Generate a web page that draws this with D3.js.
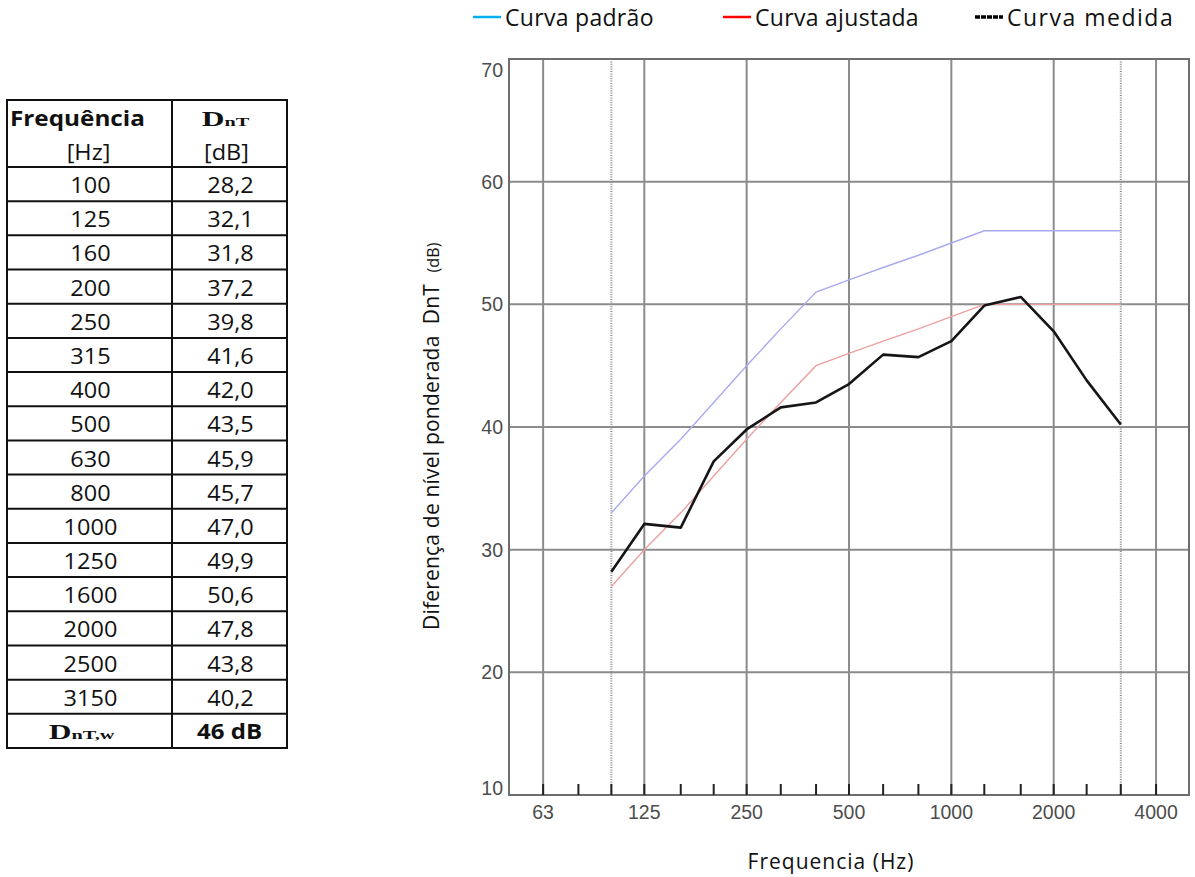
<!DOCTYPE html>
<html>
<head>
<meta charset="utf-8">
<script src="https://cdn.jsdelivr.net/npm/d3@7"></script>
<style>
  body { margin: 0; background: #fff; }
  svg { display: block; }
</style>
</head>
<body>
<svg id="chart" width="1195" height="877"></svg>
<script>
// One-third-octave band centre frequencies (Hz)
const bands = [100, 125, 160, 200, 250, 315, 400, 500, 630, 800, 1000, 1250, 1600, 2000, 2500, 3150];
// Measured standardized level difference DnT (dB)
const measured = [28.2, 32.1, 31.8, 37.2, 39.8, 41.6, 42.0, 43.5, 45.9, 45.7, 47.0, 49.9, 50.6, 47.8, 43.8, 40.2];
// Reference curve (ISO 717-1) and the same curve shifted to the rating
const reference = [33, 36, 39, 42, 45, 48, 51, 52, 53, 54, 55, 56, 56, 56, 56, 56];
const shifted = [27, 30, 33, 36, 39, 42, 45, 46, 47, 48, 49, 50, 50, 50, 50, 50];
const weightedValue = 46;

// Axis ticks
const octaveTicks = [63, 125, 250, 500, 1000, 2000, 4000];
const thirdOctaveTicks = [63, 80, 100, 125, 160, 200, 250, 315, 400, 500, 630, 800, 1000, 1250, 1600, 2000, 2500, 3150, 4000];
const rangeMarkers = [100, 3150];
const yTicks = [10, 20, 30, 40, 50, 60, 70];

// Legend entries
const legendLabels = ["Curva padrão", "Curva ajustada", "Curva medida"];
const legendColors = ["#00b0f0", "#ff0000", "#000000"];

const svg = d3.select("#chart");
const fmt = v => d3.format(".1f")(v).replace(".", ",");
const sans = "Open Sans, sans-serif";
const serif = "Liberation Serif, Times New Roman, serif";

// ---------- plot ----------
const plot = { left: 509, right: 1189, top: 59, bottom: 795 };
const x = d3.scaleLog().domain([50, 5000]).range([plot.left, plot.right]);
const y = d3.scaleLinear().domain([10, 70]).range([plot.bottom, plot.top]);

const g = svg.append("g");

// horizontal grid
g.selectAll("line.hgrid").data(yTicks.slice(1, -1)).join("line")
  .attr("x1", plot.left).attr("x2", plot.right)
  .attr("y1", d => y(d)).attr("y2", d => y(d))
  .attr("stroke", "#8c8c8c").attr("stroke-width", 2);

// vertical octave grid
g.selectAll("line.vgrid").data(octaveTicks).join("line")
  .attr("x1", d => x(d)).attr("x2", d => x(d))
  .attr("y1", plot.top).attr("y2", plot.bottom)
  .attr("stroke", "#8c8c8c").attr("stroke-width", 2);

// dotted markers of the measured range
g.selectAll("line.range").data(rangeMarkers).join("line")
  .attr("x1", d => x(d)).attr("x2", d => x(d))
  .attr("y1", plot.top).attr("y2", plot.bottom)
  .attr("stroke", "#8a8a8a").attr("stroke-width", 2)
  .attr("stroke-dasharray", "1,1.4");

// frame
g.append("rect")
  .attr("x", plot.left).attr("y", plot.top)
  .attr("width", plot.right - plot.left).attr("height", plot.bottom - plot.top)
  .attr("fill", "none").attr("stroke", "#6e6e6e").attr("stroke-width", 2);

// third-octave ticks on the bottom edge
g.selectAll("line.tick").data(thirdOctaveTicks).join("line")
  .attr("x1", d => x(d)).attr("x2", d => x(d))
  .attr("y1", plot.bottom).attr("y2", plot.bottom - 11)
  .attr("stroke", "#222").attr("stroke-width", 2);

// tick labels
g.selectAll("text.xl").data(octaveTicks).join("text")
  .attr("x", d => x(d)).attr("y", plot.bottom + 24)
  .attr("text-anchor", "middle")
  .attr("font-family", "Liberation Sans, Arial, sans-serif")
  .attr("font-size", 19.5).attr("fill", "#4d4d4d")
  .text(d => d);

g.selectAll("text.yl").data(yTicks).join("text")
  .attr("x", plot.left - 6)
  .attr("y", d => Math.min(Math.max(y(d), plot.top + 11), plot.bottom - 7) + 7)
  .attr("text-anchor", "end")
  .attr("font-family", "Liberation Sans, Arial, sans-serif")
  .attr("font-size", 19.5).attr("fill", "#4d4d4d")
  .text(d => d);

// curves
const line = vals => d3.line().x((d, i) => x(bands[i])).y(d => y(d))(vals);
g.append("path").attr("d", line(reference))
  .attr("fill", "none").attr("stroke", "#aaaaf0").attr("stroke-width", 1.4);
g.append("path").attr("d", line(shifted))
  .attr("fill", "none").attr("stroke", "#eda0a0").attr("stroke-width", 1.4);
g.append("path").attr("d", line(measured))
  .attr("fill", "none").attr("stroke", "#151515").attr("stroke-width", 2.6)
  .attr("stroke-linejoin", "round");

// axis titles
const yTitle = svg.append("text")
  .attr("transform", "translate(439,630) rotate(-90)")
  .attr("font-family", sans).attr("font-size", 21).attr("letter-spacing", 0.2).attr("fill", "#111");
yTitle.append("tspan").text("Diferença de nível ponderada\u00a0\u00a0DnT\u00a0\u00a0");
yTitle.append("tspan").attr("font-size", 16).text("(dB)");

svg.append("text")
  .attr("x", 831).attr("y", 869).attr("text-anchor", "middle")
  .attr("font-family", sans).attr("font-size", 21)
  .attr("letter-spacing", 1).attr("fill", "#111")
  .text("Frequencia (Hz)");

// legend
const legendX = [473, 723, 975];
const lg = svg.selectAll("g.leg").data(legendLabels).join("g")
  .attr("transform", (d, i) => `translate(${legendX[i]},0)`);
lg.append("line")
  .attr("x1", 0).attr("x2", 28).attr("y1", 17).attr("y2", 17)
  .attr("stroke", (d, i) => legendColors[i])
  .attr("stroke-width", (d, i) => i === 2 ? 3.5 : 2.5)
  .attr("stroke-dasharray", (d, i) => i === 2 ? "5,1" : null);
lg.append("text")
  .attr("x", 32).attr("y", 26)
  .attr("font-family", sans).attr("font-size", 23).attr("fill", "#111")
  .attr("letter-spacing", (d, i) => i === 2 ? 1.5 : 0.3)
  .text(d => d);

// ---------- table ----------
const tbl = { left: 7, mid: 172, right: 287, top: 100, head: 167, bottom: 748 };
const rowCount = bands.length + 1;
const rowY = d3.scaleLinear().domain([0, rowCount]).range([tbl.head, tbl.bottom]);
const col1 = (tbl.left + tbl.mid) / 2;
const col2 = (tbl.mid + tbl.right) / 2;
const t = svg.append("g");

// row separators, column divider and outer border
t.selectAll("line.row").data(d3.range(0, rowCount)).join("line")
  .attr("x1", tbl.left).attr("x2", tbl.right)
  .attr("y1", d => rowY(d)).attr("y2", d => rowY(d))
  .attr("stroke", "#111").attr("stroke-width", 2);
t.append("line").attr("x1", tbl.mid).attr("x2", tbl.mid)
  .attr("y1", tbl.top).attr("y2", tbl.bottom)
  .attr("stroke", "#111").attr("stroke-width", 2);
t.append("rect").attr("x", tbl.left).attr("y", tbl.top)
  .attr("width", tbl.right - tbl.left).attr("height", tbl.bottom - tbl.top)
  .attr("fill", "none").attr("stroke", "#111").attr("stroke-width", 2);

// table text is set a little wider than the face's natural width
function cell(cx, cy, sx, anchor) {
  return t.append("text")
    .attr("transform", `translate(${cx},${cy}) scale(${sx},1)`)
    .attr("text-anchor", anchor || "middle")
    .attr("fill", "#111");
}

// header
cell(10, 126, 1.13, "start").attr("font-family", sans).attr("font-weight", "bold")
  .attr("font-size", 21.5).text("Frequência");
const hd = cell(col2 - 4, 126, 1.5).attr("font-family", serif).attr("font-weight", "bold");
hd.append("tspan").attr("font-size", 21).text("D");
hd.append("tspan").attr("font-size", 13.5).text("nT");
cell(col1 - 1, 160, 1.12).attr("font-family", sans).attr("font-size", 21).text("[Hz]");
cell(col2 - 3, 160, 1.12).attr("font-family", sans).attr("font-size", 21).text("[dB]");

// band rows
bands.forEach((b, i) => {
  const cy = (rowY(i) + rowY(i + 1)) / 2 + 9;
  cell(col1 + 1, cy, 1.12).attr("font-family", sans).attr("font-size", 21).text(b);
  cell(col2 + 1, cy, 1.12).attr("font-family", sans).attr("font-size", 21).text(fmt(measured[i]));
});

// single-number rating row
const lastY = (rowY(rowCount - 1) + rowY(rowCount)) / 2 + 8;
const wl = cell(col1 - 8, lastY, 1.5).attr("font-family", serif).attr("font-weight", "bold");
wl.append("tspan").attr("font-size", 21).text("D");
wl.append("tspan").attr("font-size", 13.5).text("nT,w");
cell(col2, lastY, 1.12).attr("font-family", sans).attr("font-weight", "bold")
  .attr("font-size", 21.5).text(`${weightedValue} dB`);
</script>
</body>
</html>
